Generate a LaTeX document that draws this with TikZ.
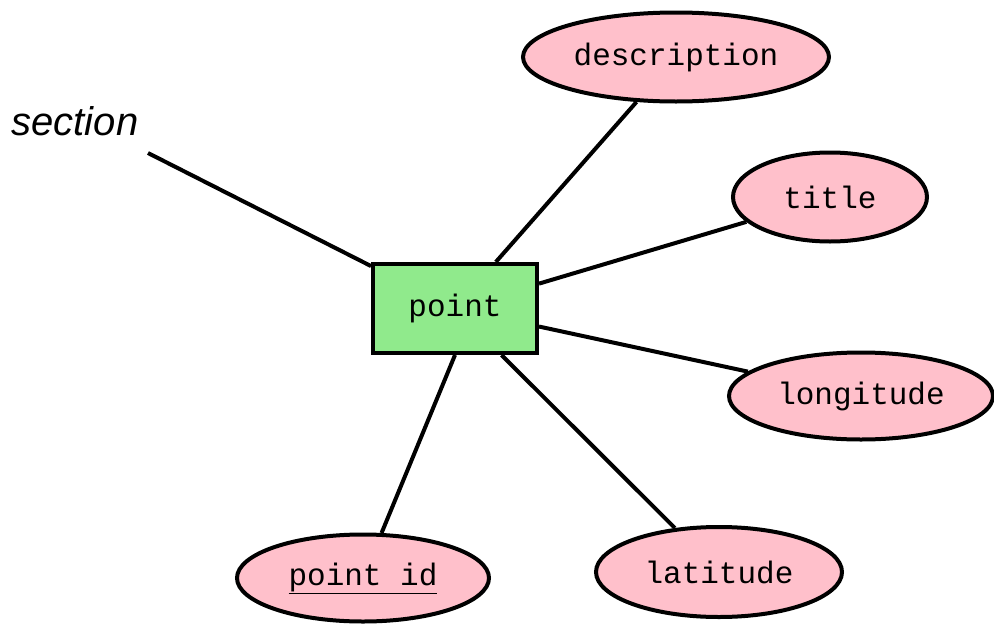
\documentclass[tikz,border=0pt]{standalone}
\usepackage{fontspec}
\setmonofont{Liberation Mono}
\newfontfamily\secfont{Liberation Sans}
\usetikzlibrary{shapes.geometric}
\definecolor{attrpink}{RGB}{255,192,203}
\definecolor{entgreen}{RGB}{144,234,140}
\newcommand{\thickul}[1]{\underline{#1}}
\begin{document}
\begin{tikzpicture}[x=1pt,y=-1pt,
  attr/.style={ellipse,draw=black,line width=4pt,fill=attrpink,inner sep=0pt,
    font=\ttfamily\fontsize{31}{36}\selectfont},
  ent/.style={rectangle,draw=black,line width=4pt,fill=entgreen,inner sep=0pt,
    minimum width=164pt,minimum height=89pt,font=\ttfamily\fontsize{31}{36}\selectfont},
  link/.style={line width=4pt,draw=black}]
\useasboundingbox (0,0) rectangle (994,624);
\fill[white] (0,0) rectangle (994,624);
\node[ent] (pt) at (455,308.5) {point};
\node[attr,minimum width=306pt,minimum height=89pt] (desc) at (676,57) {description};
\node[attr,minimum width=194pt,minimum height=89pt] (title) at (830,197) {title};
\node[attr,minimum width=264pt,minimum height=87pt] (lon) at (861,396) {longitude};
\node[attr,minimum width=246pt,minimum height=90pt] (lat) at (719,572) {latitude};
\node[attr,minimum width=252pt,minimum height=87pt] (pid) at (363,578) {\thickul{point id}};
\node[font=\secfont\itshape\fontsize{40}{44}\selectfont,inner sep=0pt] (sec) at (75,121) {section};
\coordinate (secend) at (148,153);
\draw[link] (secend) -- (pt);
\draw[link] (pt) -- (desc);
\draw[link] (pt) -- (title);
\draw[link] (pt) -- (lon);
\draw[link] (pt) -- (lat);
\draw[link] (pt.south) -- (pid);
\end{tikzpicture}
\end{document}
